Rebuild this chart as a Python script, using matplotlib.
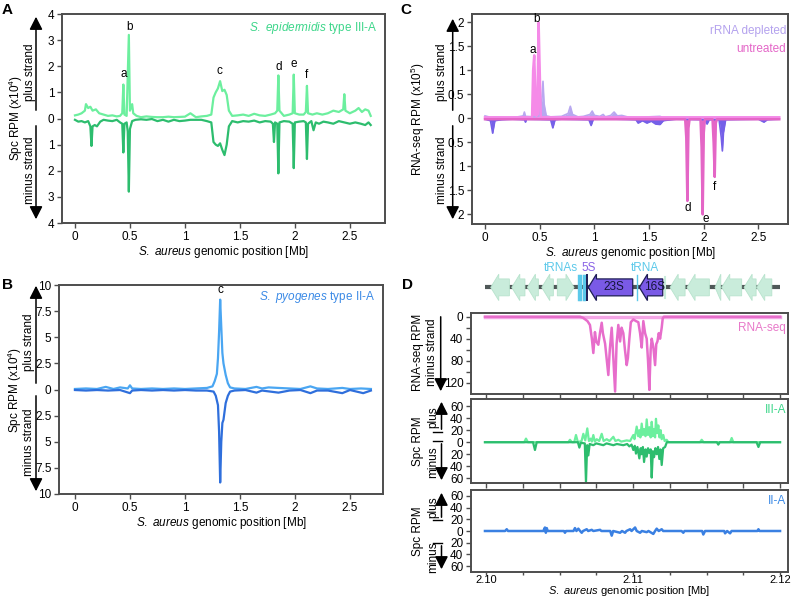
import numpy as np
import matplotlib
matplotlib.use("Agg")
import matplotlib.pyplot as plt
from matplotlib.patches import Polygon, FancyArrowPatch

plt.rcParams["font.family"] = ["Liberation Sans", "DejaVu Sans"]
plt.rcParams["font.size"] = 8
plt.rcParams["mathtext.fontset"] = "custom"
plt.rcParams["mathtext.rm"] = "Liberation Sans"
plt.rcParams["mathtext.it"] = "Liberation Sans:italic"

# ---------------- data (Mb, RPM) ----------------
# A: S. epidermidis type III-A spacer RPM (x10^4)
epi_plus = [(0.00, 0.12), (0.03, 0.15), (0.06, 0.2), (0.09, 0.3), (0.10, 0.55), (0.12, 0.4), (0.14, 0.45),
            (0.16, 0.3), (0.19, 0.35), (0.22, 0.2), (0.26, 0.15), (0.30, 0.1), (0.34, 0.12), (0.38, 0.08),
            (0.41, 0.1), (0.43, 0.2), (0.44, 1.3), (0.45, 0.15), (0.47, 0.1), (0.49, 3.2), (0.50, 0.3),
            (0.52, 0.55), (0.53, 0.2), (0.56, 0.1), (0.60, 0.05), (0.65, 0.08), (0.70, 0.06), (0.75, 0.05),
            (0.80, 0.05), (0.85, 0.07), (0.90, 0.05), (0.95, 0.06), (1.00, 0.07), (1.05, 0.2), (1.10, 0.05),
            (1.15, 0.08), (1.20, 0.1), (1.24, 0.15), (1.26, 0.8), (1.28, 1.0), (1.30, 1.15), (1.32, 1.43),
            (1.34, 1.05), (1.36, 1.1), (1.38, 0.9), (1.40, 0.3), (1.43, 0.1), (1.48, 0.12), (1.53, 0.15),
            (1.58, 0.1), (1.63, 0.18), (1.68, 0.12), (1.73, 0.1), (1.78, 0.15), (1.82, 0.2), (1.84, 0.3),
            (1.85, 1.65), (1.86, 0.3), (1.90, 0.1), (1.95, 0.15), (1.98, 0.2), (1.99, 1.68), (2.00, 0.2),
            (2.04, 0.15), (2.08, 0.15), (2.10, 0.25), (2.11, 1.25), (2.12, 0.2), (2.16, 0.15), (2.20, 0.2),
            (2.25, 0.15), (2.30, 0.2), (2.35, 0.3), (2.40, 0.25), (2.44, 0.35), (2.45, 0.93), (2.46, 0.3),
            (2.50, 0.2), (2.55, 0.3), (2.58, 0.4), (2.61, 0.25), (2.64, 0.35), (2.67, 0.3), (2.69, 0.1)]
epi_minus = [(0.00, -0.05), (0.03, -0.12), (0.06, -0.1), (0.09, -0.15), (0.12, -0.1), (0.14, -0.3),
             (0.15, -1.05), (0.16, -0.3), (0.18, -0.25), (0.20, -0.3), (0.23, -0.12), (0.26, -0.05),
             (0.30, -0.08), (0.34, -0.1), (0.38, -0.05), (0.41, -0.15), (0.43, -0.2), (0.44, -1.3),
             (0.45, -0.2), (0.47, -0.15), (0.48, -0.5), (0.49, -2.8), (0.50, -0.4), (0.52, -0.1),
             (0.55, -0.05), (0.60, -0.03), (0.65, -0.05), (0.70, -0.02), (0.75, -0.1), (0.80, -0.05),
             (0.85, -0.12), (0.90, -0.05), (0.95, -0.1), (1.00, -0.08), (1.05, -0.05), (1.10, -0.05),
             (1.15, -0.05), (1.20, -0.1), (1.24, -0.15), (1.26, -0.9), (1.28, -1.0), (1.30, -1.05),
             (1.32, -0.95), (1.34, -1.2), (1.36, -1.4), (1.38, -1.0), (1.40, -0.3), (1.43, -0.1),
             (1.48, -0.15), (1.53, -0.1), (1.58, -0.12), (1.63, -0.08), (1.68, -0.15), (1.73, -0.1),
             (1.78, -0.12), (1.80, -0.2), (1.81, -0.9), (1.82, -0.15), (1.84, -0.2), (1.85, -2.1),
             (1.86, -0.15), (1.90, -0.1), (1.95, -0.12), (1.98, -0.2), (1.99, -1.9), (2.00, -0.15),
             (2.04, -0.12), (2.08, -0.1), (2.10, -0.15), (2.11, -1.55), (2.12, -0.2), (2.15, -0.1),
             (2.17, -0.45), (2.19, -0.15), (2.22, -0.2), (2.26, -0.12), (2.30, -0.15), (2.35, -0.2),
             (2.40, -0.1), (2.45, -0.15), (2.50, -0.2), (2.55, -0.15), (2.60, -0.2), (2.64, -0.25),
             (2.67, -0.15), (2.69, -0.25)]
epi_peaks = [("a", 0.44, 1.7), ("b", 0.50, 3.5), ("c", 1.31, 1.82),
             ("d", 1.85, 1.98), ("e", 1.99, 2.07), ("f", 2.11, 1.65)]

# B: S. pyogenes type II-A spacer RPM (x10^4)
pyo_plus = [(0.0, 0.05), (0.1, 0.1), (0.2, 0.05), (0.28, 0.25), (0.35, 0.05), (0.41, 0.2), (0.48, 0.1),
            (0.5, 0.4), (0.52, 0.1), (0.6, 0.05), (0.7, 0.1), (0.8, 0.05), (0.9, 0.1), (1.0, 0.05),
            (1.1, 0.1), (1.2, 0.15), (1.25, 0.3), (1.27, 0.8), (1.29, 1.5), (1.30, 3.0), (1.31, 5.5),
            (1.32, 8.6), (1.33, 6.0), (1.34, 3.5), (1.35, 2.5), (1.37, 1.4), (1.39, 0.6), (1.41, 0.2),
            (1.45, 0.1), (1.55, 0.05), (1.65, 0.25), (1.7, 0.1), (1.76, 0.2), (1.85, 0.15), (1.95, 0.1),
            (2.05, 0.05), (2.14, 0.3), (2.2, 0.1), (2.3, 0.05), (2.43, 0.15), (2.5, 0.05), (2.6, 0.1),
            (2.69, 0.05)]
pyo_minus = [(0.0, -0.05), (0.1, -0.1), (0.2, -0.05), (0.3, -0.1), (0.41, -0.05), (0.5, -0.35),
             (0.52, -0.1), (0.6, -0.05), (0.7, -0.1), (0.8, -0.05), (0.9, -0.1), (1.0, -0.05),
             (1.1, -0.1), (1.2, -0.1), (1.26, -0.2), (1.28, -0.6), (1.30, -1.5), (1.31, -4.0),
             (1.32, -8.9), (1.33, -5.0), (1.34, -3.2), (1.35, -2.9), (1.37, -1.3), (1.39, -0.6),
             (1.41, -0.2), (1.45, -0.1), (1.55, -0.05), (1.65, -0.3), (1.7, -0.1), (1.85, -0.3),
             (1.95, -0.1), (2.05, -0.05), (2.14, -0.35), (2.2, -0.1), (2.3, -0.1), (2.43, -0.35),
             (2.5, -0.05), (2.62, -0.35), (2.69, -0.1)]

# C: RNA-seq RPM (x10^5)
untr_plus = [(0.0, 0.02), (0.43, 0.02), (0.44, 1.0), (0.45, 1.31), (0.46, 0.5), (0.47, 0.05),
             (0.48, 0.4), (0.49, 1.99), (0.50, 1.0), (0.51, 0.02), (2.69, 0.02)]
untr_minus = [(0.0, -0.02), (1.83, -0.02), (1.84, -0.4), (1.85, -1.72), (1.86, -0.2), (1.87, -0.02),
              (1.97, -0.02), (1.98, -0.6), (1.99, -2.0), (2.00, -0.3), (2.01, -0.02), (2.08, -0.02),
              (2.09, -0.5), (2.10, -1.22), (2.11, -0.1), (2.12, -0.02), (2.69, -0.02)]
depl_plus = [(0.0, 0.05), (0.05, 0.02), (0.1, 0.03), (0.2, 0.02), (0.3, 0.03), (0.35, 0.05), (0.36, 0.13),
             (0.37, 0.04), (0.45, 0.03), (0.5, 0.05), (0.52, 0.4), (0.53, 0.77), (0.54, 0.3), (0.56, 0.05),
             (0.6, 0.03), (0.7, 0.04), (0.76, 0.1), (0.78, 0.25), (0.80, 0.08), (0.85, 0.03), (0.9, 0.04),
             (0.96, 0.08), (0.98, 0.15), (1.0, 0.06), (1.05, 0.04), (1.08, 0.08), (1.10, 0.03), (1.15, 0.06),
             (1.18, 0.13), (1.21, 0.05), (1.25, 0.06), (1.3, 0.03), (1.4, 0.02), (1.6, 0.04), (1.62, 0.02),
             (1.8, 0.02), (2.0, 0.02), (2.4, 0.02), (2.69, 0.02)]
depl_minus = [(0.0, -0.02), (0.05, -0.05), (0.07, -0.31), (0.09, -0.05), (0.15, -0.03), (0.25, -0.02),
              (0.36, -0.03), (0.37, -0.08), (0.38, -0.02), (0.6, -0.03), (0.62, -0.2), (0.64, -0.03),
              (0.7, -0.02), (0.95, -0.03), (0.97, -0.15), (0.99, -0.02), (1.2, -0.02), (1.38, -0.03),
              (1.40, -0.1), (1.44, -0.05), (1.48, -0.1), (1.52, -0.06), (1.56, -0.12), (1.60, -0.13),
              (1.63, -0.05), (1.7, -0.03), (1.75, -0.02), (2.01, -0.03), (2.03, -0.12), (2.05, -0.03),
              (2.14, -0.03), (2.16, -0.4), (2.17, -0.68), (2.18, -0.3), (2.20, -0.03), (2.5, -0.02),
              (2.55, -0.08), (2.58, -0.03), (2.69, -0.02)]
rna_peaks = [("a", 0.44, 1.43), ("b", 0.47, 2.06), ("d", 1.85, -1.86), ("e", 2.02, -2.09), ("f", 2.10, -1.44)]

# D: zoom on rRNA locus, positions in kb after 2.10 Mb
D_START_MB = 2.10
rnaseq_minus = [(-0.07, 0), (6.39, 0), (6.6, 2), (6.9, 8), (7.07, 15), (7.2, 40), (7.30, 66), (7.41, 28),
                (7.5, 45), (7.64, 51), (7.75, 30), (7.87, 11), (7.95, 30), (8.10, 49), (8.2, 75), (8.32, 106),
                (8.42, 60), (8.55, 20), (8.65, 70), (8.78, 136), (8.88, 50), (9.00, 15), (9.12, 45), (9.22, 20),
                (9.34, 30), (9.45, 60), (9.57, 88), (9.65, 75), (9.75, 40), (9.85, 10), (10.02, 5), (10.2, 8),
                (10.36, 10), (10.48, 30), (10.59, 56), (10.70, 8), (10.82, 30), (10.93, 40), (11.02, 80),
                (11.11, 133), (11.2, 60), (11.27, 40), (11.38, 55), (11.50, 88), (11.58, 50), (11.66, 45),
                (11.75, 30), (11.84, 40), (11.95, 20), (12.02, 3), (12.1, 0), (20.0, 0)]
iiia_plus = [(-0.07, 0), (2.6, 0), (2.72, 6), (2.85, 0), (5.6, 0), (5.71, 4), (5.85, 0), (6.0, 0), (6.12, 12),
             (6.25, 0), (6.5, 2), (6.62, 14), (6.75, 3), (6.89, 23), (7.0, 2), (7.12, 6), (7.2, 1), (7.30, 12),
             (7.4, 1), (7.53, 5), (7.7, 2), (7.87, 14), (8.0, 2), (8.21, 5), (8.4, 2), (8.66, 9), (8.8, 2),
             (9.00, 4), (9.2, 1), (9.57, 3), (9.8, 2), (10.02, 12), (10.1, 5), (10.25, 26), (10.35, 10),
             (10.43, 20), (10.5, 8), (10.59, 31), (10.67, 12), (10.75, 22), (10.85, 10), (10.93, 38),
             (11.02, 12), (11.11, 25), (11.2, 8), (11.27, 34), (11.35, 10), (11.43, 22), (11.5, 8),
             (11.56, 39), (11.64, 15), (11.72, 28), (11.8, 8), (11.88, 20), (11.95, 5), (12.06, 12),
             (12.15, 2), (12.29, 4), (12.4, 0), (14.55, 0), (14.67, 4), (14.8, 0), (16.6, 0), (16.71, 7),
             (16.82, 0), (20.0, 0)]
iiia_minus = [(-0.07, 0), (3.2, 0), (3.33, -13), (3.45, 0), (6.25, 0), (6.35, -9), (6.45, -1), (6.72, -2),
              (6.80, -67), (6.88, -5), (6.96, -22), (7.05, -3), (7.30, -5), (7.5, -2), (7.98, -5), (8.2, -2),
              (8.66, -5), (8.9, -3), (9.34, -5), (9.6, -3), (9.75, -7), (9.9, -4), (10.02, -13), (10.12, -6),
              (10.20, -19), (10.3, -8), (10.43, -27), (10.52, -10), (10.59, -20), (10.67, -8), (10.75, -33),
              (10.85, -12), (10.93, -24), (11.02, -10), (11.11, -18), (11.2, -12), (11.27, -59), (11.35, -15),
              (11.43, -25), (11.52, -10), (11.61, -20), (11.7, -8), (11.79, -28), (11.87, -12), (11.95, -38),
              (12.05, -10), (12.18, -8), (12.3, 0), (15.7, 0), (15.80, -4), (15.9, 0), (18.4, 0),
              (18.53, -8), (18.65, 0), (20.0, 0)]
iia_signal = [(-0.07, 0), (1.3, 0), (1.41, 3), (1.5, 0), (3.9, 0), (4.01, 6), (4.07, -3), (4.13, 5), (4.2, 0),
              (5.3, 0), (5.37, -3), (5.45, 0), (5.95, 0), (6.05, 5), (6.15, 0), (6.28, 4), (6.4, 0),
              (6.51, -3), (6.6, 0), (6.85, 3), (6.95, 0), (7.19, 2), (7.3, 0), (7.76, 2), (7.85, 0),
              (8.45, 0), (8.55, -8), (8.65, 0), (9.12, -3), (9.25, 0), (9.46, -3), (9.55, 0), (9.80, 3),
              (9.9, 0), (10.14, 6), (10.25, 0), (10.48, -3), (10.6, 0), (10.93, -2), (11.05, 0),
              (11.38, -5), (11.5, 0), (11.61, 4), (11.75, 0), (11.95, 3), (12.05, 0), (13.3, 0),
              (13.42, -3), (13.5, 0), (14.7, 0), (14.78, -6), (14.9, 0), (16.2, 0), (16.26, -4),
              (16.4, 0), (16.6, -4), (16.7, 0), (18.45, 0), (18.53, 3), (18.6, 0), (20.0, 0)]

# gene track: (start kb, end kb, strand)
genes = [(0.32, 1.59, -1), (1.75, 2.65, -1), (2.81, 3.56, -1), (3.79, 4.58, -1), (4.85, 5.99, 1),
         (12.52, 13.54, -1), (13.67, 15.19, -1), (15.58, 15.97, -1), (16.03, 17.39, -1),
         (17.55, 18.37, -1), (18.41, 19.44, -1)]
rrna_genes = [("23S", 6.96, 9.98), ("16S", 10.43, 12.02)]
trna_pos = [6.25, 6.33, 6.41, 6.49, 6.57, 6.65, 6.73, 10.25]
rrna_5s_pos = 6.89

# ---------------- figure ----------------
W, H = 796, 599
fig = plt.figure(figsize=(W / 100, H / 100), dpi=100)

SPINE = "#4d4d4d"


def add_ax(l, t, r, b):
    return fig.add_axes([l / W, 1 - b / H, (r - l) / W, (b - t) / H])


def fxy(px, py):
    return (px / W, 1 - py / H)


def style(ax):
    for s in ax.spines.values():
        s.set_color(SPINE)
        s.set_linewidth(1.4)
    ax.tick_params(which="both", direction="out", length=3.5, width=1, color=SPINE,
                   labelsize=8.5, pad=2)


def arrow(px, py0, py1):
    fig.add_artist(FancyArrowPatch(fxy(px, py0), fxy(px, py1), transform=fig.transFigure,
                                   arrowstyle="-|>,head_length=0.55,head_width=0.28",
                                   mutation_scale=14, lw=1.1, color="black"))


def ftext(px, py, s, **kw):
    fig.text(*fxy(px, py), s, ha="center", va="center", **kw)


def xy(series):
    x, y = zip(*series)
    return np.array(x), np.array(y)


def strand_ticks(ax, vals, fmt):
    ax.set_yticks(vals)
    ax.set_yticklabels([fmt(abs(v)) for v in vals])


GENOME_XLABEL = r"$\it{S.\ aureus}$ genomic position [Mb]"

# ---- A ----
axA = add_ax(62, 14, 385, 223)
style(axA)
x, y = xy(epi_plus)
axA.plot(x, y, color="#6cef9e", lw=1.6)
x, y = xy(epi_minus)
axA.plot(x, y, color="#2dbd6e", lw=1.6)
axA.set_xlim(-0.118, 2.82)
axA.set_ylim(-4, 4)
strand_ticks(axA, [4, 3, 2, 1, 0, -1, -2, -3, -4], lambda v: f"{v:g}")
axA.set_xticks([0, 0.5, 1, 1.5, 2, 2.5])
axA.set_xticklabels(["0", "0.5", "1", "1.5", "2", "2.5"])
axA.set_xlabel(GENOME_XLABEL, fontsize=8.5, labelpad=1)
for lab, px, py in epi_peaks:
    axA.text(px, py, lab, ha="center", va="center", fontsize=8.5)
axA.text(0.975, 0.933, r"$\it{S.\ epidermidis}$ type III-A", transform=axA.transAxes,
         ha="right", va="center", color="#3dd68a", fontsize=8.5)
arrow(36, 113, 14)
arrow(36, 123, 222)
ftext(15.5, 118, r"Spc RPM (x10$^4$)", rotation=90, fontsize=8.5)
ftext(30, 72, "plus strand", rotation=90, fontsize=8.5)
ftext(30, 170, "minus strand", rotation=90, fontsize=8.5)

# ---- B ----
axB = add_ax(59, 285, 383, 494)
style(axB)
x, y = xy(pyo_plus)
axB.plot(x, y, color="#4aa6f2", lw=1.6)
x, y = xy(pyo_minus)
axB.plot(x, y, color="#2f6fdc", lw=1.6)
axB.set_xlim(-0.145, 2.8)
axB.set_ylim(-10, 10)
strand_ticks(axB, [10, 7.5, 5, 2.5, 0, -2.5, -5, -7.5, -10], lambda v: f"{v:g}")
axB.set_xticks([0, 0.5, 1, 1.5, 2, 2.5])
axB.set_xticklabels(["0", "0.5", "1", "1.5", "2", "2.5"])
axB.set_xlabel(GENOME_XLABEL, fontsize=8.5, labelpad=1)
axB.text(1.32, 9.5, "c", ha="center", va="center", fontsize=8.5)
axB.text(0.975, 0.943, r"$\it{S.\ pyogenes}$ type II-A", transform=axB.transAxes,
         ha="right", va="center", color="#3b8ae6", fontsize=8.5)
arrow(36, 386, 283)
arrow(36, 393, 494)
ftext(15, 390, r"Spc RPM (x10$^4$)", rotation=90, fontsize=8.5)
ftext(29, 342, "plus strand", rotation=90, fontsize=8.5)
ftext(29, 442, "minus strand", rotation=90, fontsize=8.5)

# ---- C ----
axC = add_ax(472, 14, 788, 224)
style(axC)
x, y = xy(depl_plus)
axC.fill_between(x, 0, y, color="#b8a8f0", lw=0)
axC.plot(x, y, color="#b8a8f0", lw=1.2)
x, y = xy(depl_minus)
axC.fill_between(x, 0, y, color="#7560e8", lw=0)
axC.plot(x, y, color="#7560e8", lw=1.2)
x, y = xy(untr_plus)
axC.fill_between(x, 0, y, color="#f58ae8", lw=0)
axC.plot(x, y, color="#f58ae8", lw=1.8)
x, y = xy(untr_minus)
axC.fill_between(x, 0, y, color="#e466c6", lw=0)
axC.plot(x, y, color="#e466c6", lw=1.8)
axC.set_xlim(-0.119, 2.77)
axC.set_ylim(-2.2, 2.17)
strand_ticks(axC, [2, 1.5, 1, 0.5, 0, -0.5, -1, -1.5, -2], lambda v: f"{v:g}")
axC.set_xticks([0, 0.5, 1, 1.5, 2, 2.5])
axC.set_xticklabels(["0", "0.5", "1", "1.5", "2", "2.5"])
axC.set_xlabel(GENOME_XLABEL, fontsize=8.5, labelpad=1)
for lab, px, py in rna_peaks:
    axC.text(px, py, lab, ha="center", va="center", fontsize=8.5)
axC.text(0.994, 0.92, "rRNA depleted", transform=axC.transAxes, ha="right", va="center",
         color="#b4a2ee", fontsize=8.5)
axC.text(0.994, 0.832, "untreated", transform=axC.transAxes, ha="right", va="center",
         color="#e466c8", fontsize=8.5)
arrow(452.7, 113, 16)
arrow(452.7, 123, 222)
ftext(418, 119, r"RNA-seq RPM (x10$^5$)", rotation=90, fontsize=8.5)
ftext(442, 72, "plus strand", rotation=90, fontsize=8.5)
ftext(442, 170, "minus strand", rotation=90, fontsize=8.5)

# ---- D ----
D_XLIM = (D_START_MB - 0.00102, D_START_MB + 0.02054)


def mb(kb):
    return D_START_MB + np.asarray(kb) / 1000.0


# gene track
axG = add_ax(471, 262, 788, 306)
axG.set_xlim(*D_XLIM)
axG.set_ylim(-1.1, 1.5)
axG.axis("off")
axG.plot(mb([-0.07, 20.0]), [0, 0], color="#4f5858", lw=3, solid_capstyle="butt", zorder=1)
BODY, HEAD, HLEN = 0.5, 0.78, 0.55


def gene_poly(start, end, strand):
    h = min(HLEN, end - start)
    if strand < 0:
        pts = [(start, 0), (start + h, HEAD), (start + h, BODY), (end, BODY),
               (end, -BODY), (start + h, -BODY), (start + h, -HEAD)]
    else:
        pts = [(end, 0), (end - h, HEAD), (end - h, BODY), (start, BODY),
               (start, -BODY), (end - h, -BODY), (end - h, -HEAD)]
    return [(mb(px), py) for px, py in pts]


for s, e, st in genes:
    axG.add_patch(Polygon(gene_poly(s, e, st), closed=True, fc="#c9ecdb", ec="#b8e3cd",
                          lw=0.6, zorder=2))
for name, s, e in rrna_genes:
    axG.add_patch(Polygon(gene_poly(s, e, -1), closed=True, fc="#7a5ae6", ec="#1e1e55",
                          lw=0.9, zorder=3))
    axG.text(mb((s + e) / 2 + 0.25), 0, name, ha="center", va="center", fontsize=8.5,
             color="#15153a", zorder=4)
for p in trna_pos:
    axG.plot([mb(p)] * 2, [-0.75, 0.75], color="#5cc9ea", lw=1, zorder=3)
axG.plot([mb(rrna_5s_pos)] * 2, [-0.75, 0.75], color="#1e1e55", lw=1.4, zorder=3)
axG.plot(mb([12.18, 12.18]), [-0.6, 0.6], color="#c9ecdb", lw=1.5, zorder=2)
axG.text(mb(5.1), 1.15, "tRNAs", ha="center", va="center", color="#5cc9ea", fontsize=8.5)
axG.text(mb(6.95), 1.15, "5S", ha="center", va="center", color="#8a63e6", fontsize=8.5)
axG.text(mb(10.8), 1.15, "tRNA", ha="center", va="center", color="#5cc9ea", fontsize=8.5)

minor_x = mb(np.arange(0, 20.01, 2.5))


def style_d(ax, show_labels):
    style(ax)
    ax.set_xlim(*D_XLIM)
    ax.set_xticks(mb([0, 10, 20]))
    ax.set_xticks(minor_x, minor=True)
    if show_labels:
        ax.set_xticklabels(["2.10", "2.11", "2.12"])
        ax.tick_params(axis="x", which="both", length=2.5, pad=0, labelsize=8)
    else:
        ax.set_xticklabels([])


# RNA-seq
axD1 = add_ax(471, 313, 788, 394)
style_d(axD1, False)
x, y = xy(rnaseq_minus)
axD1.plot(mb(x), np.zeros_like(y), color="#f4a6e6", lw=2.5)
axD1.plot(mb(x), y, color="#e76dcb", lw=1.8)
axD1.set_ylim(140.5, -6.7)
axD1.set_yticks([0, 40, 80, 120])
axD1.set_yticks([20, 60, 100], minor=True)
axD1.text(0.994, 0.815, "RNA-seq", transform=axD1.transAxes, ha="right", va="center",
          color="#e879c9", fontsize=8.5)
arrow(440.7, 314, 394)
ftext(418, 352, "RNA-seq RPM", rotation=90, fontsize=8.5)
ftext(432, 352, "minus strand", rotation=90, fontsize=8.5)

# III-A
axD2 = add_ax(471, 399, 788, 483)
style_d(axD2, False)
x, y = xy(iiia_plus)
axD2.plot(mb(x), y, color="#6cef9e", lw=1.6)
x, y = xy(iiia_minus)
axD2.plot(mb(x), y, color="#2dbd6e", lw=1.6)
axD2.set_ylim(-68, 72)
strand_ticks(axD2, [60, 40, 20, 0, -20, -40, -60], lambda v: f"{v:g}")
axD2.text(0.994, 0.87, "III-A", transform=axD2.transAxes, ha="right", va="center",
          color="#3dd68a", fontsize=8.5)

# II-A
axD3 = add_ax(471, 490, 788, 572)
style_d(axD3, True)
x, y = xy(iia_signal)
axD3.plot(mb(x), y, color="#3a80e2", lw=1.8)
axD3.set_ylim(-70, 70)
strand_ticks(axD3, [60, 40, 20, 0, -20, -40, -60], lambda v: f"{v:g}")
fig.text(*fxy(629.5, 598.5), GENOME_XLABEL, ha="center", va="bottom", fontsize=8)
axD3.text(0.994, 0.86, "II-A", transform=axD3.transAxes, ha="right", va="center",
          color="#3b8ae6", fontsize=8.5)

for top, mid_up, mid_dn, bot in [(399, 432, 441, 483), (490, 520, 543, 572)]:
    arrow(441.5, mid_up, top)
    arrow(441.5, mid_dn, bot)
    for py in (mid_up, mid_dn):
        fig.add_artist(plt.Line2D([433 / W, 442 / W], [1 - py / H] * 2, color="black", lw=1))
    ftext(418, (top + bot) / 2, "Spc RPM", rotation=90, fontsize=8.5)
    ftext(433, (top + mid_up) / 2 + 2, "plus", rotation=90, fontsize=8.5)
    ftext(433, (mid_dn + bot) / 2, "minus", rotation=90, fontsize=8.5)

# panel letters
for lab, px, py in [("A", 2, 3), ("B", 2, 278), ("C", 400, 3), ("D", 402, 278)]:
    fig.text(*fxy(px, py), lab, ha="left", va="top", fontsize=11, fontweight="bold")

fig.savefig("out.png", dpi=100)
